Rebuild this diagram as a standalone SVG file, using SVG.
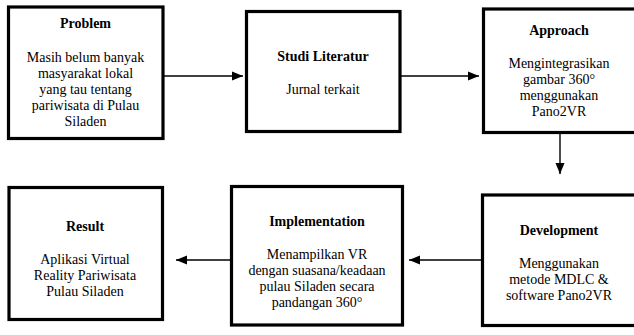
<svg xmlns="http://www.w3.org/2000/svg" width="634" height="335" viewBox="0 0 634 335">
<style>
.box{fill:#fff;stroke:#000;stroke-width:3.2}
text{font-family:"Liberation Serif","Times New Roman",serif;font-size:14px;fill:#000;text-anchor:middle}
.t{font-weight:bold}
.c{stroke:#000;stroke-width:1.4;fill:none}
</style>
<defs>
<marker id="ah" markerUnits="userSpaceOnUse" markerWidth="12" markerHeight="10" refX="11" refY="5" orient="auto">
<path d="M0,0.5 L11,5 L0,9.5 Z" fill="#000"/>
</marker>
</defs>
<rect width="634" height="335" fill="#fff"/>
<g id="connectors">
<line class="c" x1="164" y1="76" x2="243" y2="76" marker-end="url(#ah)"/>
<line class="c" x1="401" y1="76" x2="479" y2="76" marker-end="url(#ah)"/>
<line class="c" x1="560" y1="134" x2="560" y2="174" marker-end="url(#ah)"/>
<line class="c" x1="481" y1="260" x2="409" y2="260" marker-end="url(#ah)"/>
<line class="c" x1="230" y1="260" x2="176" y2="260" marker-end="url(#ah)"/>
</g>
<g id="problem">
<rect class="box" x="8.5" y="7" width="154.5" height="131.5"/>
<text class="t" x="85.5" y="28">Problem</text>
<text x="85.5" y="61.5">Masih belum banyak</text>
<text x="85.5" y="77.5">masyarakat lokal</text>
<text x="85.5" y="93.5">yang tau tentang</text>
<text x="85.5" y="109.5">pariwisata di Pulau</text>
<text x="85.5" y="125.5">Siladen</text>
</g>
<g id="studi">
<rect class="box" x="246.5" y="11.5" width="153.5" height="120"/>
<text class="t" x="323" y="61">Studi Literatur</text>
<text x="323" y="94">Jurnal terkait</text>
</g>
<g id="approach">
<rect class="box" x="483.5" y="9" width="160" height="123.5"/>
<text class="t" x="559" y="35">Approach</text>
<text x="559" y="68">Mengintegrasikan</text>
<text x="559" y="84">gambar 360°</text>
<text x="559" y="100">menggunakan</text>
<text x="559" y="116">Pano2VR</text>
</g>
<g id="development">
<rect class="box" x="482.5" y="195" width="160" height="130.5"/>
<text class="t" x="559" y="234.5">Development</text>
<text x="559" y="267.5">Menggunakan</text>
<text x="559" y="283.5">metode MDLC &amp;</text>
<text x="559" y="299.5">software Pano2VR</text>
</g>
<g id="implementation">
<rect class="box" x="231.5" y="186.5" width="171" height="138.5"/>
<text class="t" x="317" y="225.5">Implementation</text>
<text x="317" y="258.5">Menampilkan VR</text>
<text x="317" y="274.5">dengan suasana/keadaan</text>
<text x="317" y="290.5">pulau Siladen secara</text>
<text x="317" y="306.5">pandangan 360°</text>
</g>
<g id="result">
<rect class="box" x="9" y="187.5" width="153.5" height="132"/>
<text class="t" x="85" y="230.5">Result</text>
<text x="85" y="263.5">Aplikasi Virtual</text>
<text x="85" y="279.5">Reality Pariwisata</text>
<text x="85" y="295.5">Pulau Siladen</text>
</g>
</svg>
